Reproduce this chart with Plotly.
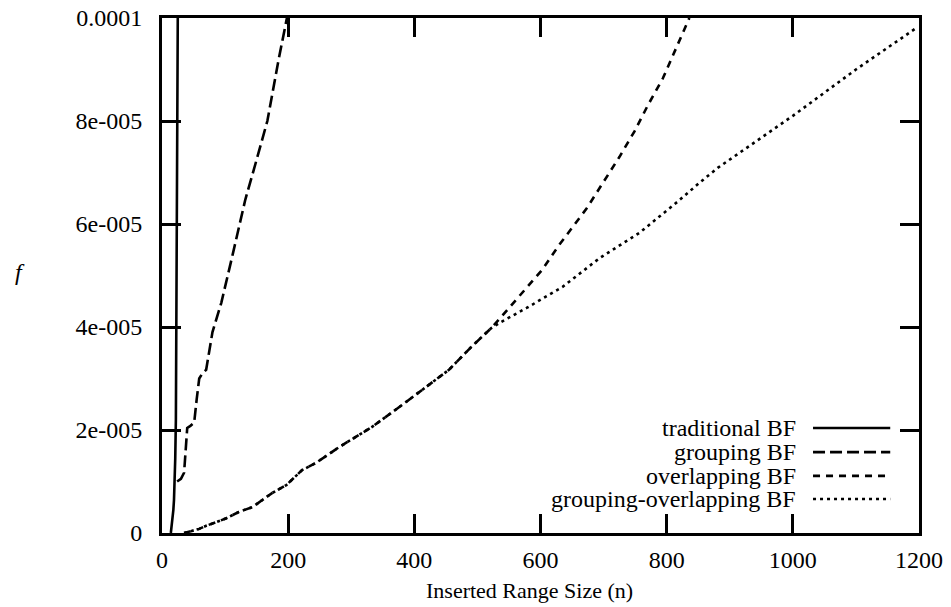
import plotly.graph_objects as go

# ---- data ----
traditional_n = [14, 16, 18, 19, 20, 21, 22, 23, 24, 25]
traditional_f = [0, 2.0e-6, 4.5e-6, 6.4e-6, 1.0e-5, 1.45e-5, 2.2e-5, 4.5e-5, 7.3e-5, 1.0e-4]

grouping_n = [24, 30, 35, 38, 40, 45, 51, 55, 59, 64, 70, 80, 94, 110, 132, 150, 167, 185, 198]
grouping_f = [1.0e-5, 1.05e-5, 1.17e-5, 1.6e-5, 2.04e-5, 2.08e-5, 2.14e-5, 2.6e-5, 3.0e-5,
              3.1e-5, 3.17e-5, 3.9e-5, 4.47e-5, 5.3e-5, 6.47e-5, 7.25e-5, 8.0e-5, 9.2e-5, 1.0e-4]

overlapping_n = [35, 59, 70, 101, 122, 143, 175, 197, 222, 244, 281, 333, 381, 416, 455, 490, 522,
                 538, 570, 602, 630, 673, 699, 725, 749, 770, 794, 825, 836]
overlapping_f = [0, 0.8e-6, 1.4e-6, 2.8e-6, 4.1e-6, 5.0e-6, 7.8e-6, 9.3e-6, 1.22e-5, 1.36e-5,
                 1.67e-5, 2.06e-5, 2.49e-5, 2.82e-5, 3.17e-5, 3.61e-5, 3.98e-5,
                 4.2e-5, 4.64e-5, 5.1e-5, 5.6e-5, 6.3e-5, 6.8e-5, 7.3e-5, 7.8e-5, 8.3e-5,
                 8.83e-5, 9.67e-5, 1.0e-4]

grp_overlap_n = [35, 59, 70, 101, 122, 143, 175, 197, 222, 244, 281, 333, 381, 416, 455, 490, 522,
                 535, 578, 635, 694, 757, 784, 817, 852, 881, 1000, 1100, 1195]
grp_overlap_f = [0, 0.8e-6, 1.4e-6, 2.8e-6, 4.1e-6, 5.0e-6, 7.8e-6, 9.3e-6, 1.22e-5, 1.36e-5,
                 1.67e-5, 2.06e-5, 2.49e-5, 2.82e-5, 3.17e-5, 3.61e-5, 3.98e-5,
                 4.08e-5, 4.37e-5, 4.78e-5, 5.34e-5, 5.83e-5, 6.1e-5, 6.43e-5, 6.8e-5,
                 7.09e-5, 8.1e-5, 9.0e-5, 9.8e-5]

series_names = ["traditional BF", "grouping BF", "overlapping BF", "grouping-overlapping BF"]
series_dash = ["solid", "12px,5px", "7px,6px", "3px,4px"]

x_ticks = [0, 200, 400, 600, 800, 1000, 1200]
y_ticks = [0, 2e-5, 4e-5, 6e-5, 8e-5, 1e-4]
y_tick_text = ["0", "2e-005", "4e-005", "6e-005", "8e-005", "0.0001"]

FONT = "Liberation Serif, Times New Roman, Times, serif"

fig = go.Figure()
data = [(traditional_n, traditional_f), (grouping_n, grouping_f),
        (overlapping_n, overlapping_f), (grp_overlap_n, grp_overlap_f)]
for (xs, ys), name, dash in zip(data, series_names, series_dash):
    fig.add_trace(go.Scatter(x=xs, y=ys, mode="lines", name=name, showlegend=False,
                             line=dict(color="black", width=2.6, dash=dash)))

# custom gnuplot-like legend (text right-aligned, sample line on the right)
legend_y = [0.204, 0.157, 0.111, 0.066]
for name, dash, yy in zip(series_names, series_dash, legend_y):
    fig.add_annotation(x=0.840, y=yy, xref="paper", yref="paper", text=name,
                       showarrow=False, xanchor="right", yanchor="middle",
                       font=dict(family=FONT, size=24, color="black"))
    fig.add_shape(type="line", xref="paper", yref="paper", x0=0.860, x1=0.962, y0=yy, y1=yy,
                  line=dict(color="black", width=2.6, dash=dash))

fig.add_annotation(x=0.485, y=-0.1126, xref="paper", yref="paper",
                   text="Inserted Range Size (n)", showarrow=False,
                   xanchor="center", yanchor="middle",
                   font=dict(family=FONT, size=22, color="black"))
fig.add_annotation(x=-0.188, y=0.507, xref="paper", yref="paper",
                   text="<i>f</i>", showarrow=False, xanchor="center", yanchor="middle",
                   font=dict(family=FONT, size=24, color="black"))

axis_common = dict(showline=True, linecolor="black", linewidth=3, mirror="ticks",
                   ticks="inside", ticklen=19, tickwidth=3, tickcolor="black",
                   showgrid=False, zeroline=False, automargin=False,
                   ticklabeloverflow="allow",
                   tickfont=dict(family=FONT, size=24, color="black"))

fig.update_xaxes(range=[0, 1200], tickvals=x_ticks, ticktext=[str(v) for v in x_ticks],
                 ticklabelstandoff=3, **axis_common)
fig.update_yaxes(range=[0, 1e-4], tickvals=y_ticks, ticktext=y_tick_text,
                 ticklabelstandoff=12, **axis_common)

fig.update_layout(width=951, height=607, autosize=False,
                  margin=dict(l=162, r=32, t=18, b=74, pad=0),
                  plot_bgcolor="white", paper_bgcolor="white",
                  font=dict(family=FONT, color="black"))

# remove the browser's default 8px body margin so the figure fills the window
fig.write_html("out.html",
               config={"displayModeBar": False, "staticPlot": True},
               post_script="document.body.style.margin='0';document.body.style.overflow='hidden';")
